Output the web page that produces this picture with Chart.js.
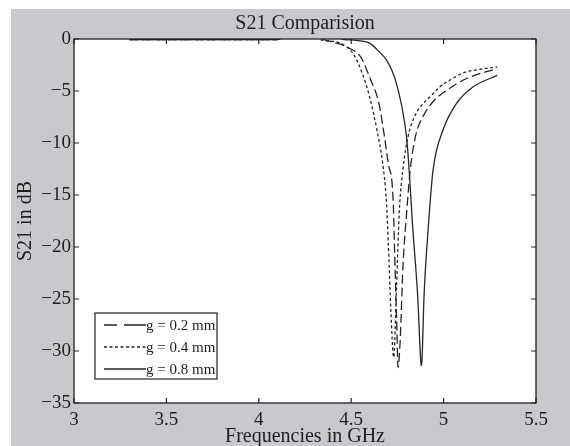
<!DOCTYPE html>
<html><head><meta charset="utf-8">
<script src="https://cdn.jsdelivr.net/npm/chart.js@4/dist/chart.umd.min.js"></script>
<style>html,body{margin:0;padding:0;background:#fff;}</style>
</head><body>
<canvas id="c" width="570" height="446" style="display:block;width:570px;height:446px"></canvas>
<script>
const chartTitle = 'S21 Comparision';
const xTitle = 'Frequencies in GHz';
const yTitle = 'S21 in dB';
const seriesLabels = ['g = 0.2 mm', 'g = 0.4 mm', 'g = 0.8 mm'];
const xTicks = [3, 3.5, 4, 4.5, 5, 5.5];
const yTicks = [0, -5, -10, -15, -20, -25, -30, -35];

// g = 0.2 mm (dashed)
const freq02 = [3.3, 4.1, 4.15, 4.3, 4.36, 4.40, 4.48, 4.55, 4.60, 4.65, 4.68, 4.70, 4.727, 4.737, 4.748, 4.753, 4.765, 4.78, 4.80, 4.82, 4.85, 4.89, 4.93, 4.98, 5.02, 5.08, 5.13, 5.20, 5.29];
const s21_02  = [-0.05, -0.05, 0.3, 0.3, -0.1, -0.3, -0.8, -1.7, -3.7, -6.2, -9.4, -11.9, -15.5, -21.9, -28.3, -31.6, -29.0, -21.9, -16.7, -12.5, -9.2, -7.4, -6.3, -5.4, -4.9, -4.2, -3.75, -3.3, -2.9];
// g = 0.4 mm (dotted)
const freq04 = [3.3, 4.1, 4.15, 4.28, 4.34, 4.44, 4.51, 4.56, 4.60, 4.64, 4.67, 4.69, 4.70, 4.715, 4.73, 4.745, 4.76, 4.78, 4.81, 4.85, 4.89, 4.93, 4.98, 5.04, 5.10, 5.20, 5.29];
const s21_04  = [-0.05, -0.05, 0.3, 0.3, -0.1, -0.4, -1.4, -3.3, -5.6, -8.8, -11.9, -15.5, -19.3, -26.3, -30.6, -24.0, -16.7, -12.5, -9.2, -7.2, -6.2, -5.5, -4.6, -3.9, -3.3, -2.9, -2.7];
// g = 0.8 mm (solid)
const freq08 = [3.3, 4.1, 4.15, 4.4, 4.46, 4.51, 4.56, 4.60, 4.65, 4.69, 4.72, 4.75, 4.79, 4.805, 4.834, 4.86, 4.876, 4.879, 4.883, 4.894, 4.916, 4.943, 4.997, 5.07, 5.16, 5.29];
const s21_08  = [-0.05, -0.05, 0.3, 0.3, -0.05, -0.1, -0.2, -0.4, -1.2, -2.0, -3.0, -4.6, -8.1, -10.5, -18.4, -24.8, -30.9, -31.4, -30.9, -24.8, -18.4, -12.6, -8.75, -6.2, -4.6, -3.5];

const serif = "'Liberation Serif', 'Times New Roman', serif";
const ink = '#1e1e1e';
const lineCol = '#262626';
const dashes = [[9, 4], [3, 2.5], []];
const legendDashes = [[13, 7, 40, 0], [3, 2.5], []];

const toPts = (xs, ys) => xs.map((x, i) => ({x, y: ys[i]}));
const datasets = [
  toPts(freq02, s21_02), toPts(freq04, s21_04), toPts(freq08, s21_08)
].map((d, i) => ({
  label: seriesLabels[i], data: d, borderColor: lineCol, borderWidth: 1.3,
  borderDash: dashes[i], pointRadius: 0, fill: false, cubicInterpolationMode: 'monotone', clip: 0
}));

const bgPlugin = {
  id: 'bg',
  beforeDraw(chart) {
    const {ctx, width, height, chartArea: a} = chart;
    ctx.save();
    ctx.fillStyle = '#ffffff';
    ctx.fillRect(0, 0, width, height);
    ctx.fillStyle = '#c9c9cd';
    ctx.fillRect(11, 9, width - 11, height - 9);
    ctx.fillStyle = '#ffffff';
    ctx.fillRect(a.left, a.top, a.right - a.left, a.bottom - a.top);
    ctx.restore();
  }
};

const framePlugin = {
  id: 'frame',
  afterDatasetsDraw(chart) {
    const {ctx, chartArea: a, scales} = chart;
    ctx.save();
    ctx.strokeStyle = '#222';
    ctx.lineWidth = 1.3;
    ctx.strokeRect(a.left, a.top, a.right - a.left, a.bottom - a.top);
    ctx.lineWidth = 1.2;
    const tl = 5;
    ctx.beginPath();
    scales.x.ticks.forEach(t => {
      const px = scales.x.getPixelForValue(t.value);
      ctx.moveTo(px, a.bottom); ctx.lineTo(px, a.bottom - tl);
      ctx.moveTo(px, a.top); ctx.lineTo(px, a.top + tl);
    });
    scales.y.ticks.forEach(t => {
      const py = scales.y.getPixelForValue(t.value);
      ctx.moveTo(a.left, py); ctx.lineTo(a.left + tl, py);
      ctx.moveTo(a.right, py); ctx.lineTo(a.right - tl, py);
    });
    ctx.stroke();

    // legend
    const bx = a.left + 21, bw = 122, bh = 66, by = a.bottom - 24 - bh;
    ctx.fillStyle = '#fff';
    ctx.fillRect(bx, by, bw, bh);
    ctx.strokeStyle = '#222';
    ctx.lineWidth = 1.2;
    ctx.strokeRect(bx, by, bw, bh);
    ctx.font = "15px " + serif;
    ctx.textBaseline = 'middle';
    ctx.textAlign = 'left';
    ctx.fillStyle = ink;
    chart.data.datasets.forEach((ds, i) => {
      const yy = by + 12 + i * 22;
      ctx.beginPath();
      ctx.strokeStyle = lineCol;
      ctx.lineWidth = 1.3;
      ctx.setLineDash(legendDashes[i]);
      ctx.moveTo(bx + 9, yy); ctx.lineTo(bx + 51, yy);
      ctx.stroke();
      ctx.setLineDash([]);
      ctx.fillText(ds.label, bx + 51, yy + 1);
    });
    ctx.restore();
  }
};

new Chart(document.getElementById('c'), {
  type: 'line',
  data: {datasets},
  options: {
    responsive: false,
    animation: false,
    events: [],
    layout: {padding: {left: 0, right: 34, top: 0, bottom: 0}},
    plugins: {
      legend: {display: false},
      tooltip: {enabled: false},
      title: {
        display: true, text: chartTitle, color: ink, fullSize: false,
        font: {family: serif, size: 20, weight: 'normal', lineHeight: 1.2},
        padding: {top: 11.5, bottom: 3.5}
      }
    },
    scales: {
      x: {
        type: 'linear', min: 3, max: 5.5,
        afterBuildTicks: s => { s.ticks = xTicks.map(v => ({value: v})); },
        afterFit: s => { s.height = 43; },
        grid: {display: false, drawTicks: false},
        border: {display: false},
        ticks: {color: ink, font: {family: serif, size: 19, lineHeight: 1.2}, padding: 6, maxRotation: 0, autoSkip: false,
          callback: v => String(v)},
        title: {display: true, text: xTitle, color: ink, font: {family: serif, size: 20, lineHeight: 0.9}, padding: 0}
      },
      y: {
        type: 'linear', min: -35, max: 0,
        afterBuildTicks: s => { s.ticks = yTicks.map(v => ({value: v})); },
        afterFit: s => { s.width = 74; },
        grid: {display: false, drawTicks: false},
        border: {display: false},
        ticks: {color: ink, font: {family: serif, size: 19}, padding: 3, autoSkip: false,
          callback: v => String(v).replace('-', '\u2212')},
        title: {display: true, text: yTitle, color: ink, font: {family: serif, size: 20, lineHeight: 1.2}, padding: {top: 14, bottom: 0}}
      }
    }
  },
  plugins: [bgPlugin, framePlugin]
});
</script>
</body></html>
